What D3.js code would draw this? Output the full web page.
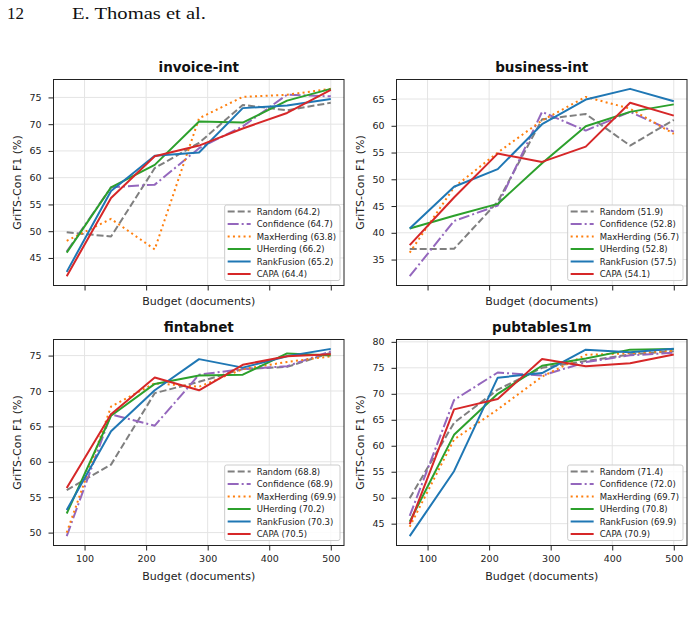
<!DOCTYPE html>
<html>
<head>
<meta charset="utf-8">
<script src="https://cdn.jsdelivr.net/npm/d3@7"></script>
<style>
  body { margin: 0; background: #fff; }
  svg { display: block; }
  .axis text { font-family: "DejaVu Sans", sans-serif; font-size: 9.5px; fill: #222; }
  .axis path, .axis line { stroke: #222; }
</style>
</head>
<body>
<div id="chart"></div>
<script>
// Budget values (x) and methods
const budgets = [71, 143, 214, 286, 357, 429, 500];
const methods = ['Random', 'Confidence', 'MaxHerding', 'UHerding', 'RankFusion', 'CAPA'];
const xTicks = [100, 200, 300, 400, 500];

// GriTS-Con F1 per method (rows follow `methods`)
const invoiceInt = [
  [49.8, 49.0, 61.8, 66.5, 73.6, 72.6, 74.0],
  [46.2, 58.2, 58.7, 65.5, 69.6, 75.5, 75.2],
  [48.2, 52.3, 46.6, 71.1, 75.1, 75.5, 76.6],
  [46.0, 58.2, 62.4, 70.5, 70.3, 74.4, 76.6],
  [42.4, 57.5, 64.1, 64.7, 73.0, 73.5, 74.7],
  [41.6, 56.2, 64.0, 66.0, 69.2, 72.1, 76.4]
];
const businessInt = [
  [36.95, 37.0, 45.8, 61.2, 62.2, 56.3, 61.1],
  [31.9, 42.2, 45.1, 62.6, 59.1, 62.6, 58.9],
  [36.3, 48.5, 55.0, 61.0, 65.4, 63.2, 58.5],
  [40.8, 43.2, 45.4, 53.0, 59.9, 62.6, 64.0],
  [40.8, 48.6, 51.9, 60.3, 64.9, 66.9, 64.6],
  [37.7, 46.6, 54.8, 53.25, 56.1, 64.3, 61.9]
];
const fintabnet = [
  [56.0, 59.6, 69.7, 71.3, 73.1, 73.4, 75.4],
  [49.5, 66.7, 65.1, 72.3, 73.1, 73.5, 75.6],
  [50.0, 67.8, 71.1, 70.6, 73.1, 74.1, 74.9],
  [52.7, 66.5, 71.0, 72.2, 72.3, 75.3, 75.0],
  [53.2, 64.3, 70.1, 74.5, 73.3, 74.9, 75.95],
  [56.3, 66.7, 71.9, 70.1, 73.7, 74.9, 75.2]
];
const pubtables1m = [
  [49.9, 64.4, 70.8, 75.0, 76.3, 77.6, 78.2],
  [46.5, 68.8, 74.1, 73.5, 76.1, 77.4, 77.9],
  [44.4, 61.2, 67.0, 73.3, 77.5, 77.8, 78.3],
  [45.4, 62.1, 70.0, 75.4, 76.8, 78.5, 78.6],
  [42.6, 55.1, 73.1, 74.0, 78.5, 78.0, 78.65],
  [44.9, 67.0, 69.0, 76.7, 75.3, 75.9, 77.55]
];

// Legend averages
const invoiceAvg = [64.2, 64.7, 63.8, 66.2, 65.2, 64.4];
const businessAvg = [51.9, 52.8, 56.7, 52.8, 57.5, 54.1];
const fintabnetAvg = [68.8, 68.9, 69.9, 70.2, 70.3, 70.5];
const pubtablesAvg = [71.4, 72.0, 69.7, 70.8, 69.9, 70.9];

// Y ticks
const invoiceTicks = [45, 50, 55, 60, 65, 70, 75];
const businessTicks = [35, 40, 45, 50, 55, 60, 65];
const fintabnetTicks = [50, 55, 60, 65, 70, 75];
const pubtablesTicks = [45, 50, 55, 60, 65, 70, 75, 80];

// Estilos das séries
const colors = ['#7f7f7f', '#9467bd', '#ff7f0e', '#2ca02c', '#1f77b4', '#d62728'];
const dashes = ['7,3', '11,3,2,3', '2,3.3', null, null, null];

const W = 694, H = 620;
const svg = d3.select('#chart').append('svg')
  .attr('width', W)
  .attr('height', H);

// Cabeçalho da página
svg.append('text')
  .attr('x', 7).attr('y', 19)
  .style('font-family', '"Liberation Serif", serif')
  .style('font-size', '17px')
  .attr('fill', '#111')
  .text('12');
svg.append('text')
  .attr('x', 72).attr('y', 19)
  .style('font-family', '"Liberation Serif", serif')
  .style('font-size', '17px')
  .attr('fill', '#111')
  .attr('textLength', 134)
  .attr('lengthAdjust', 'spacingAndGlyphs')
  .text('E. Thomas et al.');

const panels = [
  { title: 'invoice-int', data: invoiceInt, avg: invoiceAvg, yTicks: invoiceTicks, left: 53.5, top: 79.5, xLabels: false },
  { title: 'business-int', data: businessInt, avg: businessAvg, yTicks: businessTicks, left: 396.5, top: 79.5, xLabels: false },
  { title: 'fintabnet', data: fintabnet, avg: fintabnetAvg, yTicks: fintabnetTicks, left: 53.5, top: 339.5, xLabels: true },
  { title: 'pubtables1m', data: pubtables1m, avg: pubtablesAvg, yTicks: pubtablesTicks, left: 396.5, top: 339.5, xLabels: true }
];
const pw = 290.5, ph = 206;

panels.forEach(p => drawPanel(p));

function drawPanel(p) {
  const g = svg.append('g').attr('transform', `translate(${p.left},${p.top})`);

  // Escalas com margem de 5% (como matplotlib)
  const xMin = d3.min(budgets), xMax = d3.max(budgets);
  const xPad = (xMax - xMin) * 0.05;
  const x = d3.scaleLinear().domain([xMin - xPad, xMax + xPad]).range([0, pw]);

  const all = p.data.flat();
  const yMin = d3.min(all), yMax = d3.max(all);
  const yPad = (yMax - yMin) * 0.05;
  const y = d3.scaleLinear().domain([yMin - yPad, yMax + yPad]).range([ph, 0]);

  // Grade
  g.append('g')
    .selectAll('line.gx')
    .data(xTicks)
    .enter().append('line')
    .attr('x1', d => x(d)).attr('x2', d => x(d))
    .attr('y1', 0).attr('y2', ph)
    .attr('stroke', '#e4e4e4').attr('stroke-width', 1);
  g.append('g')
    .selectAll('line.gy')
    .data(p.yTicks)
    .enter().append('line')
    .attr('x1', 0).attr('x2', pw)
    .attr('y1', d => y(d)).attr('y2', d => y(d))
    .attr('stroke', '#e4e4e4').attr('stroke-width', 1);

  // Linhas
  const line = d3.line()
    .x((d, i) => x(budgets[i]))
    .y(d => y(d));

  p.data.forEach((vals, k) => {
    g.append('path')
      .datum(vals)
      .attr('d', line)
      .attr('fill', 'none')
      .attr('stroke', colors[k])
      .attr('stroke-width', 2)
      .attr('stroke-linejoin', 'round')
      .attr('stroke-dasharray', dashes[k]);
  });

  // Eixos
  const xAxis = d3.axisBottom(x).tickValues(xTicks).tickSize(5).tickPadding(5);
  if (!p.xLabels) xAxis.tickFormat('');
  g.append('g')
    .attr('class', 'axis')
    .attr('transform', `translate(0,${ph})`)
    .call(xAxis)
    .call(a => a.select('.domain').remove());

  g.append('g')
    .attr('class', 'axis')
    .call(d3.axisLeft(y).tickValues(p.yTicks).tickSize(5).tickPadding(7))
    .call(a => a.select('.domain').remove());

  // Moldura
  g.append('rect')
    .attr('x', 0).attr('y', 0)
    .attr('width', pw).attr('height', ph)
    .attr('fill', 'none')
    .attr('stroke', '#222')
    .attr('stroke-width', 1);

  // Título e rótulos
  g.append('text')
    .attr('x', pw / 2).attr('y', -8)
    .attr('text-anchor', 'middle')
    .style('font-family', '"DejaVu Sans", sans-serif')
    .style('font-size', '13.5px')
    .style('font-weight', 'bold')
    .attr('fill', '#111')
    .text(p.title);

  g.append('text')
    .attr('x', pw / 2).attr('y', p.xLabels ? ph + 34 : ph + 19)
    .attr('text-anchor', 'middle')
    .style('font-family', '"DejaVu Sans", sans-serif')
    .style('font-size', '11px')
    .attr('fill', '#222')
    .text('Budget (documents)');

  g.append('text')
    .attr('transform', `translate(-32.5,${ph / 2}) rotate(-90)`)
    .attr('text-anchor', 'middle')
    .style('font-family', '"DejaVu Sans", sans-serif')
    .style('font-size', '11px')
    .attr('fill', '#222')
    .text('GriTS-Con F1 (%)');

  // Legenda
  const rowH = 12.5;
  const legend = g.append('g');
  const box = legend.append('rect')
    .attr('fill', '#fff')
    .attr('fill-opacity', 0.85)
    .attr('stroke', '#cccccc')
    .attr('stroke-width', 1)
    .attr('rx', 2);

  const items = legend.selectAll('g.item')
    .data(methods)
    .enter().append('g')
    .attr('transform', (d, i) => `translate(0,${6.5 + i * rowH})`);

  items.append('line')
    .attr('x1', 3).attr('x2', 26)
    .attr('y1', 0).attr('y2', 0)
    .attr('stroke', (d, i) => colors[i])
    .attr('stroke-width', 2)
    .attr('stroke-dasharray', (d, i) => dashes[i]);

  const texts = items.append('text')
    .attr('x', 32).attr('y', 3)
    .style('font-family', '"DejaVu Sans", sans-serif')
    .style('font-size', '8.5px')
    .attr('fill', '#222')
    .text((d, i) => `${d} (${p.avg[i].toFixed(1)})`);

  let maxW = 0;
  texts.each(function() { maxW = Math.max(maxW, this.getComputedTextLength()); });
  const bw = 32 + maxW + 4;
  const bh = methods.length * rowH + 0.5;
  box.attr('x', 0).attr('y', 0).attr('width', bw).attr('height', bh);
  legend.attr('transform', `translate(${pw - 4 - bw},${ph - 5 - bh})`);
}
</script>
</body>
</html>
